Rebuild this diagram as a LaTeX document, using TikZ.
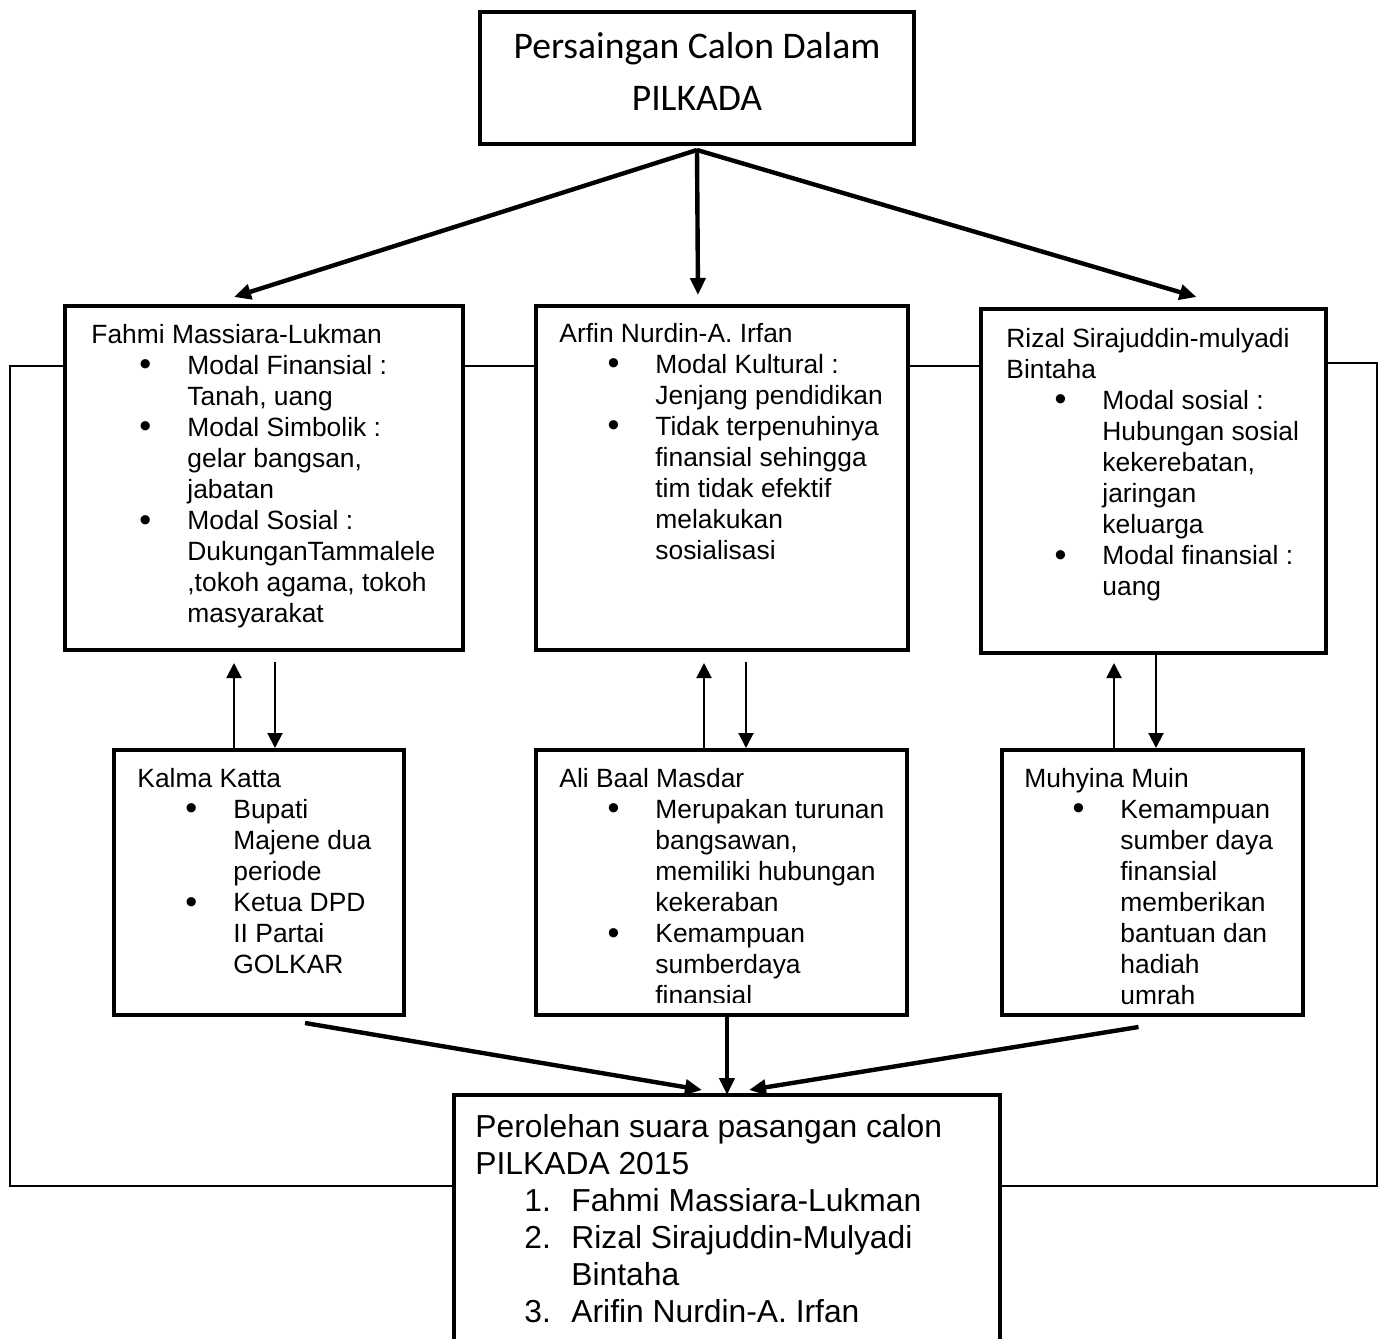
\documentclass[tikz,border=0pt]{standalone}
\usepackage{fontspec}
\setmainfont{Liberation Sans}
\newfontfamily\calibri{Carlito}
\usetikzlibrary{arrows.meta,positioning}

% list helpers
\newcommand{\judul}[1]{\noindent #1}
\newcommand{\titik}{\raisebox{-0.8pt}{\fontsize{17}{17}\selectfont\textbullet}}
\newcommand{\butir}{\par\hangindent=48pt\hangafter=0\noindent\llap{\titik\hspace{18pt}}}
\newcommand{\nomor}[1]{\par\hangindent=48pt\hangafter=0\noindent\llap{\makebox[23.5pt][l]{#1}}}

\begin{document}
\begin{tikzpicture}[x=0.5pt, y=-0.5pt,
    kotak/.style={draw, line width=2.2pt, anchor=north west, inner sep=0pt, outer sep=0pt},
    isi/.style={anchor=base west, inner sep=0pt, font=\fontsize{13.2}{15.55}\selectfont},
    panah/.style={line width=2.2pt, -{Triangle[length=8.5pt,width=7.5pt]}},
    panahtipis/.style={line width=1pt, -{Triangle[length=7.5pt,width=7.5pt]}},
    garis/.style={line width=0.8pt}
  ]
    \useasboundingbox (0,0) rectangle (1383,1339);
    \clip (0,0) rectangle (1383,1339);

    % Boxes
    \node[kotak, minimum width=217pt, minimum height=66pt]    (pilkada) at (480,12)   {};
    \node[kotak, minimum width=199pt, minimum height=172pt]   (fahmi)   at (65,306)   {};
    \node[kotak, minimum width=186pt, minimum height=172pt]   (arfin)   at (536,306)  {};
    \node[kotak, minimum width=172.5pt, minimum height=172pt] (rizal)   at (981,309)  {};
    \node[kotak, minimum width=145pt, minimum height=132.5pt] (kalma)   at (114,750)  {};
    \node[kotak, minimum width=185.5pt, minimum height=132.5pt] (ali)   at (536,750)  {};
    \node[kotak, minimum width=150.5pt, minimum height=132.5pt] (muhyina) at (1002,750) {};
    \node[kotak, minimum width=273pt, minimum height=150pt]   (hasil)   at (454,1095) {};

    % Texts
    \node[anchor=base, align=center, inner sep=0pt, font=\calibri\fontsize{18.8}{26}\selectfont]
      (pilkadatxt) at (697,110) {Persaingan Calon Dalam\\PILKADA};

    \node[isi] (fahmitxt) at (91,343) {\parbox[t]{260pt}{
      \judul{Fahmi Massiara-Lukman}
      \butir Modal Finansial :\newline Tanah, uang
      \butir Modal Simbolik :\newline gelar bangsan,\newline jabatan
      \butir Modal Sosial :\newline DukunganTammalele\newline ,tokoh agama, tokoh\newline masyarakat}};

    \node[isi] (arfintxt) at (559,342) {\parbox[t]{260pt}{
      \judul{Arfin Nurdin-A. Irfan}
      \butir Modal Kultural :\newline Jenjang pendidikan
      \butir Tidak terpenuhinya\newline finansial sehingga\newline tim tidak efektif\newline melakukan\newline sosialisasi}};

    \node[isi] (rizaltxt) at (1006,347) {\parbox[t]{260pt}{
      \judul{Rizal Sirajuddin-mulyadi}\newline Bintaha
      \butir Modal sosial :\newline Hubungan sosial\newline kekerebatan,\newline jaringan\newline keluarga
      \butir Modal finansial :\newline uang}};

    \node[isi] (kalmatxt) at (137,787) {\parbox[t]{260pt}{
      \judul{Kalma Katta}
      \butir Bupati\newline Majene dua\newline periode
      \butir Ketua DPD\newline II Partai\newline GOLKAR}};

    \begin{scope}
      \clip (536,750) rectangle (907,1002);
      \node[isi] (alitxt) at (559,787) {\parbox[t]{260pt}{
        \judul{Ali Baal Masdar}
        \butir Merupakan turunan\newline bangsawan,\newline memiliki hubungan\newline kekeraban
        \butir Kemampuan\newline sumberdaya\newline finansial}};
    \end{scope}

    \node[isi] (muhyinatxt) at (1024,787) {\parbox[t]{260pt}{
      \judul{Muhyina Muin}
      \butir Kemampuan\newline sumber daya\newline finansial\newline memberikan\newline bantuan dan\newline hadiah\newline umrah}};

    \node[isi, font=\fontsize{15.9}{18.5}\selectfont] (hasiltxt) at (475,1137) {\parbox[t]{300pt}{
      \judul{Perolehan suara pasangan calon}\newline PILKADA 2015
      \nomor{1.}Fahmi Massiara-Lukman
      \nomor{2.}Rizal Sirajuddin-Mulyadi\newline Bintaha
      \nomor{3.}Arifin Nurdin-A. Irfan}};

    % Arrows from the top box
    \draw[panah] ([yshift=-3pt]pilkada.south) -- ([shift={(-30,-9)}]fahmi.north);
    \draw[panah] ([yshift=-3pt]pilkada.south) -- ([shift={(-24,-11)}]arfin.north);
    \draw[panah] ([yshift=-3pt]pilkada.south) -- ([shift={(43,-12)}]rizal.north);

    % Arrows between the rows
    \draw[panahtipis, shorten >=6.5pt] (kalma.north -| 234,0) -- (fahmi.south -| 234,0);
    \draw[panahtipis, shorten <=6pt, shorten >=1pt] (fahmi.south -| 275,0) -- (kalma.north -| 275,0);
    \draw[panahtipis, shorten >=6.5pt] (ali.north -| 704,0) -- (arfin.south -| 704,0);
    \draw[panahtipis, shorten <=6pt, shorten >=1pt] (arfin.south -| 746,0) -- (ali.north -| 746,0);
    \draw[panahtipis, shorten >=5pt] (muhyina.north -| 1114,0) -- (rizal.south -| 1114,0);
    \draw[panahtipis, shorten >=1pt] (rizal.south -| 1156,0) -- (muhyina.north -| 1156,0);

    % Arrows to the result box
    \draw[panah] ([shift={(46,8)}]kalma.south) -- ([shift={(-25,-5)}]hasil.north);
    \draw[panah] (ali.south -| hasil.north) -- (hasil.north);
    \draw[panah] ([shift={(-14,12)}]muhyina.south) -- ([shift={(22,-5)}]hasil.north);

    % Thin links
    \coordinate (kiriatas)   at (10,366);
    \coordinate (kiribawah)  at (10,1186);
    \coordinate (kananatas)  at (1377,363);
    \coordinate (kananbawah) at (1377,1186);
    \draw[garis] (fahmi.west |- kiriatas) -- (kiriatas) -- (kiribawah) -- (hasil.west |- kiribawah);
    \draw[garis] (rizal.east |- kananatas) -- (kananatas) -- (kananbawah) -- (hasil.east |- kananbawah);
    \draw[garis] (fahmi.east |- 0,366) -- (arfin.west |- 0,366);
    \draw[garis] (arfin.east |- 0,366) -- (rizal.west |- 0,366);
  \end{tikzpicture}
\end{document}
